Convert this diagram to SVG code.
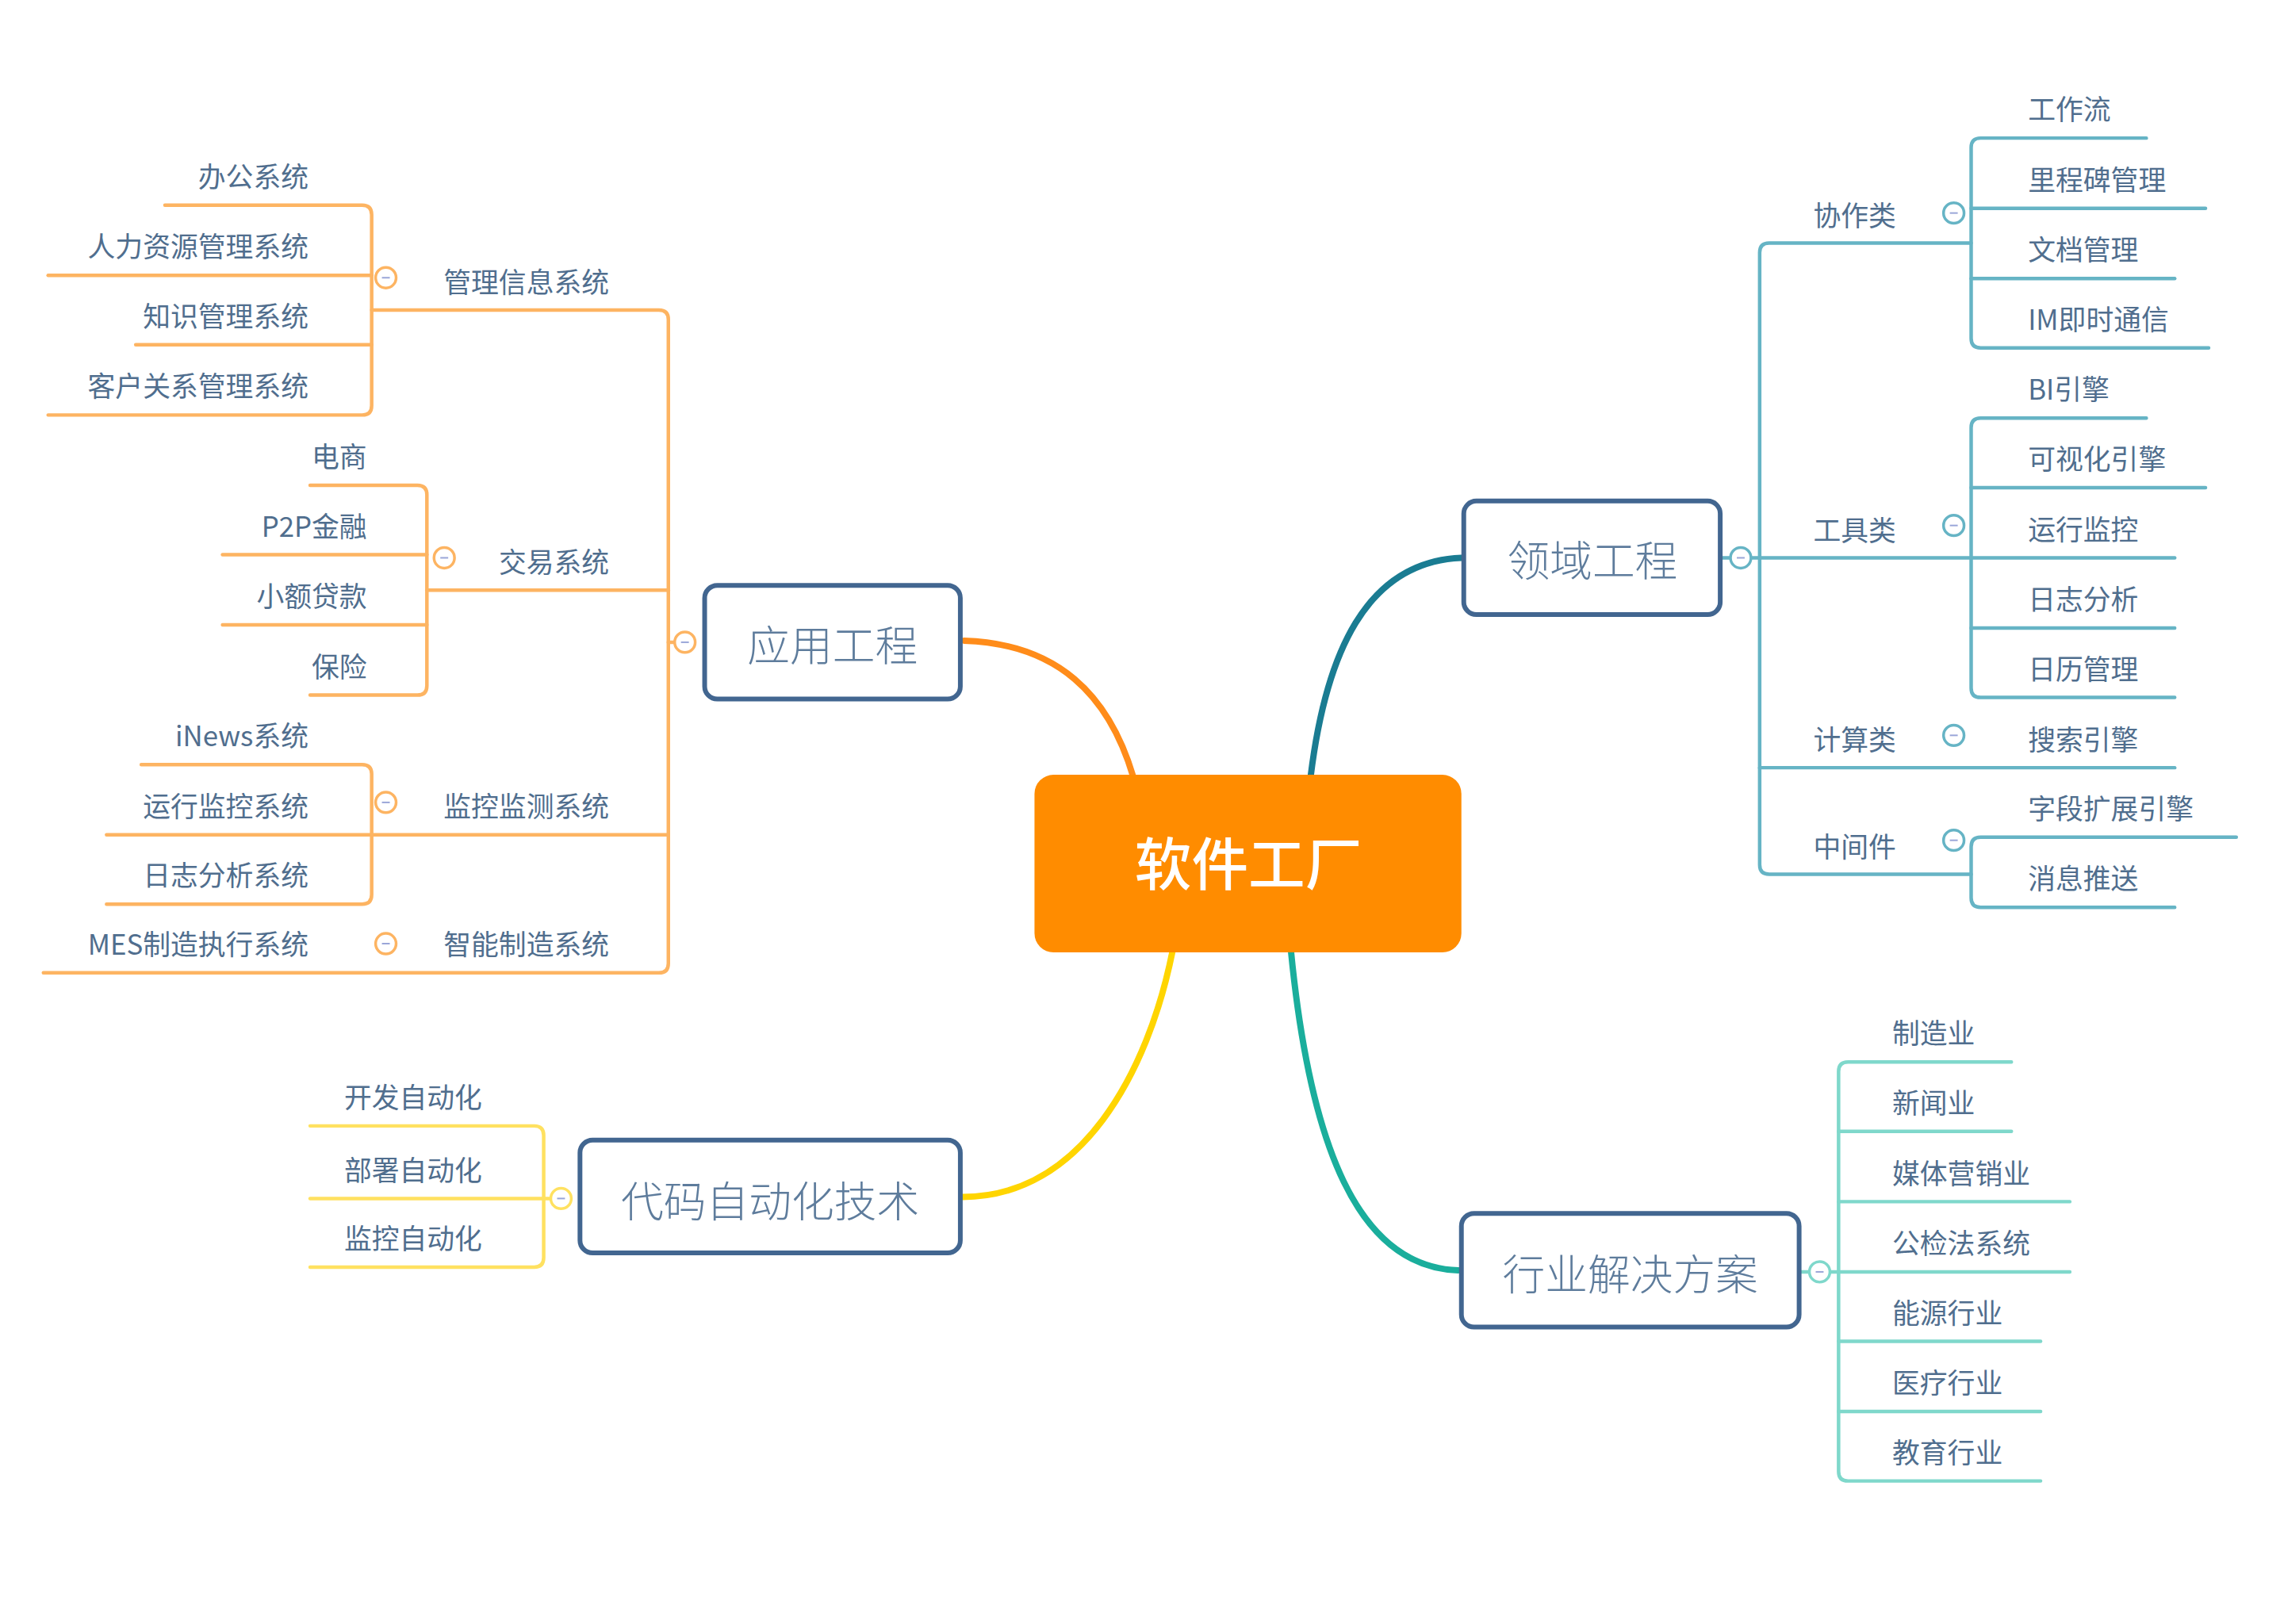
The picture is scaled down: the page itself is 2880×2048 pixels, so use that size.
<svg xmlns="http://www.w3.org/2000/svg" width="2880" height="2048" viewBox="0 0 2880 2048">
<style>
  .bg{fill:#ffffff}
  .lo{stroke:#FDB462;stroke-width:4.5;fill:none;stroke-linecap:round}
  .lb{stroke:#66B4C5;stroke-width:4.5;fill:none;stroke-linecap:round}
  .lt{stroke:#7FD8CB;stroke-width:4.5;fill:none;stroke-linecap:round}
  .ly{stroke:#FFE160;stroke-width:4.5;fill:none;stroke-linecap:round}
  .t{font-family:"Noto Sans CJK SC","Liberation Sans",sans-serif;font-size:35px;fill:#506E8E}
  .te{text-anchor:end}
  .nb{fill:#ffffff;stroke:#426690;stroke-width:6}
  .nt{font-family:"Noto Sans CJK SC","Liberation Serif",serif;font-size:54px;font-weight:300;fill:#5E7C9C;text-anchor:middle}
  .cc{fill:#ffffff;stroke-width:3.5}
  .cm{stroke:#9AA6D8;stroke-width:2}
</style>
<rect class="bg" x="0" y="0" width="2880" height="2048"/>
<g transform="scale(0.995)">
<g id="connectors">
  <path d="M1436,984 C1405,880 1340,816 1222,812" fill="none" stroke="#FF8C1A" stroke-width="8" stroke-linecap="round"/>
  <path d="M1661,984 C1680,830 1730,712 1852,707" fill="none" stroke="#1A7C92" stroke-width="8" stroke-linecap="round"/>
  <path d="M1486,1205 C1455,1360 1370,1517 1220,1517" fill="none" stroke="#FFD500" stroke-width="8" stroke-linecap="round"/>
  <path d="M1636,1205 C1660,1450 1720,1606 1848,1610" fill="none" stroke="#1AAE9C" stroke-width="8" stroke-linecap="round"/>

  <path class="lo" d="M856,814 H847"/>
  <path class="lo" d="M471,393 H835 Q847,393 847,405 V1221 Q847,1233 835,1233 H55"/>
  <path class="lo" d="M209,260 H459 Q471,260 471,272 V514 Q471,526 459,526 H61"/>
  <path class="lo" d="M61,349 H471"/>
  <path class="lo" d="M172,437 H471"/>
  <path class="lo" d="M541,748 H847"/>
  <path class="lo" d="M393,615 H529 Q541,615 541,627 V869 Q541,881 529,881 H393"/>
  <path class="lo" d="M282,703 H541"/>
  <path class="lo" d="M282,792 H541"/>
  <path class="lo" d="M179,969 H459 Q471,969 471,981 V1134 Q471,1146 459,1146 H135"/>
  <path class="lo" d="M135,1058 H847"/>

  <path class="ly" d="M393,1427 H677 Q689,1427 689,1439 V1594 Q689,1606 677,1606 H393"/>
  <path class="ly" d="M393,1519 H700"/>

  <path class="lb" d="M2180,707 H2230"/>
  <path class="lb" d="M2498,308 H2242 Q2230,308 2230,320 V1096 Q2230,1108 2242,1108 H2498"/>
  <path class="lb" d="M2720,175 H2510 Q2498,175 2498,187 V429 Q2498,441 2510,441 H2799"/>
  <path class="lb" d="M2498,264 H2795"/>
  <path class="lb" d="M2498,353 H2756"/>
  <path class="lb" d="M2720,530 H2510 Q2498,530 2498,542 V872 Q2498,884 2510,884 H2756"/>
  <path class="lb" d="M2498,618 H2795"/>
  <path class="lb" d="M2230,707 H2756"/>
  <path class="lb" d="M2498,796 H2756"/>
  <path class="lb" d="M2230,973 H2756"/>
  <path class="lb" d="M2834,1061 H2510 Q2498,1061 2498,1073 V1138 Q2498,1150 2510,1150 H2756"/>

  <path class="lt" d="M2280,1612 H2623"/>
  <path class="lt" d="M2549,1346 H2342 Q2330,1346 2330,1358 V1865 Q2330,1877 2342,1877 H2586"/>
  <path class="lt" d="M2330,1434 H2549"/>
  <path class="lt" d="M2330,1523 H2623"/>
  <path class="lt" d="M2330,1700 H2586"/>
  <path class="lt" d="M2330,1789 H2586"/>
</g>

<g id="toggles">
  <circle class="cc" cx="868" cy="814" r="13" stroke="#FDB462"/><path class="cm" d="M863,814 H873"/>
  <circle class="cc" cx="489" cy="352" r="13" stroke="#FDB462"/><path class="cm" d="M484,352 H494"/>
  <circle class="cc" cx="563" cy="707" r="13" stroke="#FDB462"/><path class="cm" d="M558,707 H568"/>
  <circle class="cc" cx="489" cy="1017" r="13" stroke="#FDB462"/><path class="cm" d="M484,1017 H494"/>
  <circle class="cc" cx="489" cy="1196" r="13" stroke="#FDB462"/><path class="cm" d="M484,1196 H494"/>
  <circle class="cc" cx="711" cy="1519" r="13" stroke="#FFE160"/><path class="cm" d="M706,1519 H716"/>
  <circle class="cc" cx="2206" cy="707" r="13" stroke="#66B4C5"/><path class="cm" d="M2201,707 H2211"/>
  <circle class="cc" cx="2476" cy="270" r="13" stroke="#66B4C5"/><path class="cm" d="M2471,270 H2481"/>
  <circle class="cc" cx="2476" cy="666" r="13" stroke="#66B4C5"/><path class="cm" d="M2471,666 H2481"/>
  <circle class="cc" cx="2476" cy="932" r="13" stroke="#66B4C5"/><path class="cm" d="M2471,932 H2481"/>
  <circle class="cc" cx="2476" cy="1065" r="13" stroke="#66B4C5"/><path class="cm" d="M2471,1065 H2481"/>
  <circle class="cc" cx="2306" cy="1612" r="13" stroke="#7FD8CB"/><path class="cm" d="M2301,1612 H2311"/>
</g>

<g id="center">
  <rect x="1311" y="982" width="541" height="225" rx="24" fill="#FF8C00"/>
  <text x="1582" y="1122" text-anchor="middle" font-family="Noto Sans CJK SC, Liberation Sans, sans-serif" font-size="72" font-weight="500" fill="#ffffff">软件工厂</text>
</g>

<g id="node-yygc">
  <rect class="nb" x="893" y="742" width="324" height="144" rx="16"/>
  <text class="nt" x="1055" y="838">应用工程</text>
</g>
<g id="node-lygc">
  <rect class="nb" x="1855" y="635" width="325" height="144" rx="16"/>
  <text class="nt" x="2018" y="731">领域工程</text>
</g>
<g id="node-dmzdh">
  <rect class="nb" x="735" y="1445" width="482" height="143" rx="16"/>
  <text class="nt" x="976" y="1543">代码自动化技术</text>
</g>
<g id="node-hyjjfa">
  <rect class="nb" x="1852" y="1538" width="428" height="144" rx="16"/>
  <text class="nt" x="2066" y="1635">行业解决方案</text>
</g>

<g id="left-labels">
  <text class="t te" x="772" y="371">管理信息系统</text>
  <text class="t te" x="391" y="237">办公系统</text>
  <text class="t te" x="391" y="326">人力资源管理系统</text>
  <text class="t te" x="391" y="414">知识管理系统</text>
  <text class="t te" x="391" y="503">客户关系管理系统</text>
  <text class="t te" x="772" y="726">交易系统</text>
  <text class="t te" x="465" y="592">电商</text>
  <text class="t te" x="465" y="680">P2P金融</text>
  <text class="t te" x="465" y="769">小额贷款</text>
  <text class="t te" x="465" y="858">保险</text>
  <text class="t te" x="772" y="1035">监控监测系统</text>
  <text class="t te" x="391" y="946">iNews系统</text>
  <text class="t te" x="391" y="1035">运行监控系统</text>
  <text class="t te" x="391" y="1123">日志分析系统</text>
  <text class="t te" x="772" y="1210">智能制造系统</text>
  <text class="t te" x="391" y="1210">MES制造执行系统</text>
  <text class="t te" x="611" y="1404">开发自动化</text>
  <text class="t te" x="611" y="1496">部署自动化</text>
  <text class="t te" x="611" y="1583">监控自动化</text>
</g>

<g id="right-labels">
  <text class="t" x="2298" y="286">协作类</text>
  <text class="t" x="2570" y="152">工作流</text>
  <text class="t" x="2570" y="241">里程碑管理</text>
  <text class="t" x="2570" y="330">文档管理</text>
  <text class="t" x="2570" y="418">IM即时通信</text>
  <text class="t" x="2298" y="685">工具类</text>
  <text class="t" x="2570" y="507">BI引擎</text>
  <text class="t" x="2570" y="595">可视化引擎</text>
  <text class="t" x="2570" y="684">运行监控</text>
  <text class="t" x="2570" y="773">日志分析</text>
  <text class="t" x="2570" y="861">日历管理</text>
  <text class="t" x="2298" y="951">计算类</text>
  <text class="t" x="2570" y="951">搜索引擎</text>
  <text class="t" x="2298" y="1086">中间件</text>
  <text class="t" x="2570" y="1038">字段扩展引擎</text>
  <text class="t" x="2570" y="1127">消息推送</text>
  <text class="t" x="2398" y="1323">制造业</text>
  <text class="t" x="2398" y="1411">新闻业</text>
  <text class="t" x="2398" y="1500">媒体营销业</text>
  <text class="t" x="2398" y="1589">公检法系统</text>
  <text class="t" x="2398" y="1677">能源行业</text>
  <text class="t" x="2398" y="1766">医疗行业</text>
  <text class="t" x="2398" y="1854">教育行业</text>
</g>
</g>
</svg>
